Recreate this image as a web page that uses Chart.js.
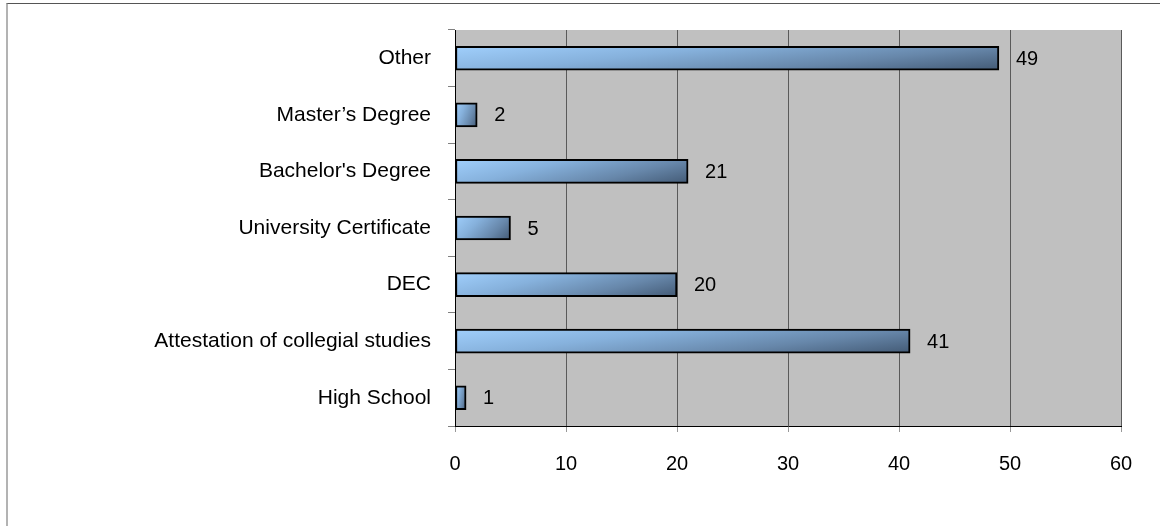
<!DOCTYPE html>
<html lang="en">
<head>
<meta charset="UTF-8">
<title>Education level</title>
<script src="https://cdn.jsdelivr.net/npm/chart.js"></script>
<style>
  body { margin: 0; background: #fff; overflow: hidden; }
  /* outer chart frame, runs off the right and bottom edges */
  #frame { position: absolute; left: 6px; top: 3px; width: 1400px; height: 800px;
           border-top: 1px solid #555; border-left: 2px solid #b3b3b3; }
  #chart { position: absolute; left: 0; top: 0; }
</style>
</head>
<body>
<div id="frame"></div>
<canvas id="chart" width="1160" height="526"></canvas>
<script>
// listed bottom to top (the y axis is reversed)
const categories = ['High School', 'Attestation of collegial studies', 'DEC', 'University Certificate',
                    "Bachelor's Degree", 'Master\u2019s Degree', 'Other'];
const counts = [1, 41, 20, 5, 21, 2, 49];
const xTicks = [0, 10, 20, 30, 40, 50, 60];

const FONT = '"Liberation Sans", Arial, sans-serif';

// diagonal light-to-dark fill, one gradient per bar
function barFill(c) {
  const chart = c.chart;
  const xs = chart.scales.x, ys = chart.scales.y;
  const value = counts[c.dataIndex];
  if (!xs || !ys || value === undefined) return '#7fa3c9';
  const x0 = xs.getPixelForValue(0);
  const x1 = xs.getPixelForValue(value);
  const yc = ys.getPixelForValue(c.dataIndex);
  if (![x0, x1, yc].every(Number.isFinite)) return '#7fa3c9';
  const y0 = yc - 12, y1 = yc + 12;
  const w = Math.max(x1 - x0, 1), h = y1 - y0;
  const a = 0.7, b = 0.3;
  const ux = a / w, uy = b / h, n = ux * ux + uy * uy;
  const g = chart.ctx.createLinearGradient(x0, y0, x0 + ux / n, y0 + uy / n);
  g.addColorStop(0, '#a0cffc');
  g.addColorStop(0.35, '#86b1dc');
  g.addColorStop(0.7, '#6787aa');
  g.addColorStop(1, '#435a75');
  return g;
}

const plotBackground = {
  id: 'plotBackground',
  beforeDraw(chart) {
    const { ctx, chartArea: a } = chart;
    ctx.save();
    ctx.fillStyle = '#c0c0c0';
    ctx.fillRect(a.left, a.top, a.right - a.left, a.bottom - a.top);
    ctx.restore();
  }
};

const valueLabels = {
  id: 'valueLabels',
  afterDatasetsDraw(chart) {
    const ctx = chart.ctx;
    const meta = chart.getDatasetMeta(0);
    ctx.save();
    ctx.font = '20px ' + FONT;
    ctx.fillStyle = '#000';
    ctx.textAlign = 'left';
    ctx.textBaseline = 'middle';
    meta.data.forEach((bar, i) => {
      ctx.fillText(String(counts[i]), bar.x + 17, bar.y + 1);
    });
    ctx.restore();
  }
};

new Chart(document.getElementById('chart'), {
  type: 'bar',
  data: {
    labels: categories,
    datasets: [{
      data: counts,
      backgroundColor: barFill,
      borderColor: '#000',
      borderWidth: 2,
      borderSkipped: false,
      barThickness: 24
    }]
  },
  options: {
    indexAxis: 'y',
    responsive: false,
    animation: false,
    layout: { padding: { left: 0, right: 39, top: 30, bottom: 0 } },
    plugins: { legend: { display: false }, tooltip: { enabled: false } },
    scales: {
      x: {
        min: xTicks[0],
        max: xTicks[xTicks.length - 1],
        ticks: { stepSize: xTicks[1] - xTicks[0], color: '#000', padding: 20,
                 font: { size: 20, family: FONT } },
        grid: { color: c => c.index === 0 ? '#000' : '#5a5a5a', tickColor: '#999', tickLength: 6 },
        border: { color: '#000', width: 1 },
        afterFit(scale) { scale.height = 100; }
      },
      y: {
        reverse: true,
        ticks: { color: '#000', padding: 17, autoSkip: false, font: { size: 21, family: FONT } },
        grid: { drawOnChartArea: false, color: '#808080', tickLength: 7 },
        border: { color: '#000', width: 1 },
        afterFit(scale) { scale.width = 455; }
      }
    }
  },
  plugins: [plotBackground, valueLabels]
});
</script>
</body>
</html>
